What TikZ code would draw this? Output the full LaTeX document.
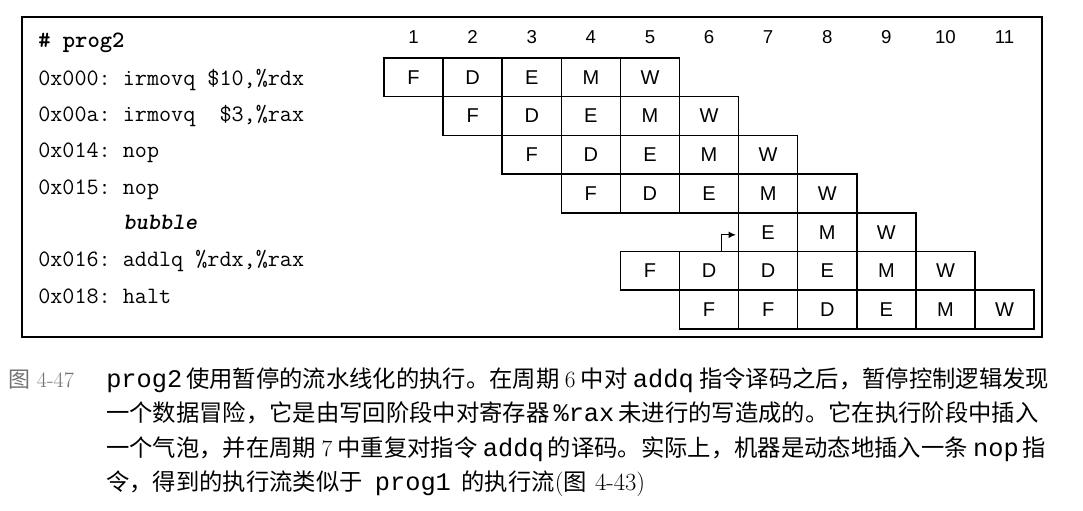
\documentclass[tikz,border=0pt]{standalone}
\usepackage{fontspec}
\newfontfamily\cjk{Noto Sans CJK SC}
\newfontfamily\cellfont{Liberation Sans}
\newfontfamily\captt{Liberation Mono}
\newfontfamily\codebf{lmmonolt10-bold.otf}
\newfontfamily\codebsl{lmmonolt10-boldoblique.otf}
\usetikzlibrary{arrows.meta}
\XeTeXlinebreaklocale "zh"
\XeTeXlinebreakskip=0pt plus 3pt
\newcommand\ctt[1]{{\captt\fontsize{19}{20}\selectfont #1}}
\newcommand\csp{\hspace{4pt}}
\frenchspacing
\tikzset{
  cell/.style={draw, line width=1.1pt, minimum width=44.33pt, minimum height=29.03pt,
    inner sep=0pt, font=\cellfont\fontsize{15}{15}\selectfont},
  numlab/.style={inner sep=0pt, font=\cellfont\fontsize{14}{14}\selectfont},
  code/.style={anchor=base west, inner sep=0pt, font=\ttfamily\fontsize{17.6}{20}\selectfont},
  capline/.style={anchor=base west, inner sep=0pt, font=\cjk\fontsize{17.5}{20}\selectfont},
  figlab/.style={anchor=base west, inner sep=0pt, text=black!55, font=\fontsize{16.5}{20}\selectfont},
  hazard/.style={line width=0.7pt, -{Latex[length=5.5pt,width=5pt]}, shorten >=1.5pt}
}
\begin{document}
\begin{tikzpicture}[x=0.75pt,y=-0.75pt]
\useasboundingbox (0,0) rectangle (1083,511);
\fill[white] (0,0) rectangle (1083,511);
% frame
\draw[line width=1.1pt] (22,17) rectangle (1042,337);
% cycle numbers
\foreach \k in {1,...,11}
  \node[numlab] (n\k) at ({384+(\k-0.5)*59.1},37) {\k};
% program text
\node[code] (title) at (38,47) {\codebf\# prog2};
\node[code] (i1) at (38,85) {0x000: irmovq \$10,\%rdx};
\node[code] (i2) at (38,121) {0x00a: irmovq \ \$3,\%rax};
\node[code] (i3) at (38,157) {0x014: nop};
\node[code] (i4) at (38,194) {0x015: nop};
\node[code] (bub) at (123,229) {\codebsl bubble};
\node[code] (i5) at (38,266) {0x016: addlq \%rdx,\%rax};
\node[code] (i6) at (38,303) {0x018: halt};
% pipeline cells
\foreach \r/\s/\labs in {1/1/{F,D,E,M,W}, 2/2/{F,D,E,M,W}, 3/3/{F,D,E,M,W},
    4/4/{F,D,E,M,W}, 5/7/{E,M,W}, 6/5/{F,D,D,E,M,W}, 7/6/{F,F,D,E,M,W}}
  \foreach \l [count=\i from 0] in \labs {
    \pgfmathtruncatemacro\k{\s+\i}
    \node[cell] (c\r-\k) at ({384+(\k-0.5)*59.1},{58+(\r-0.5)*38.7}) {\l};
  }
% stall arrow
\draw[hazard] ([xshift=-13.2pt]c6-6.north east) |- ([yshift=-2pt]c5-7.west);
% caption
\node[figlab] (fig) at (8,387) {{\cjk 图} 4-47};
\node[capline] (l1) at (106,387) {\hbox to 710.25pt{\ctt{prog2}\hspace{3pt}使用暂停的流水线化的执行。在周期\csp{\rmfamily 6}\csp 中对\csp\ctt{addq}\csp 指令译码之后，暂停控制逻辑发现}};
\node[capline] (l2) at (106,421) {\hbox to 710.25pt{一个数据冒险，它是由写回阶段中对寄存器\hspace{3pt}\ctt{\%rax}\hspace{3pt}未进行的写造成的。它在执行阶段中插入}};
\node[capline] (l3) at (106,456) {\hbox to 710.25pt{一个气泡，并在周期\csp{\rmfamily 7}\csp 中重复对指令\csp\ctt{addq}\hspace{3pt}的译码。实际上，机器是动态地插入一条\csp\ctt{nop}\hspace{3pt}指}};
\node[capline] (l4) at (106,490) {令，得到的执行流类似于\hspace{9pt}\ctt{prog1}\hspace{8pt}的执行流{\rmfamily\fontsize{18.5}{20}\selectfont(}图\hspace{6pt}{\rmfamily\fontsize{18.5}{20}\selectfont 4-43)}};
\end{tikzpicture}
\end{document}
